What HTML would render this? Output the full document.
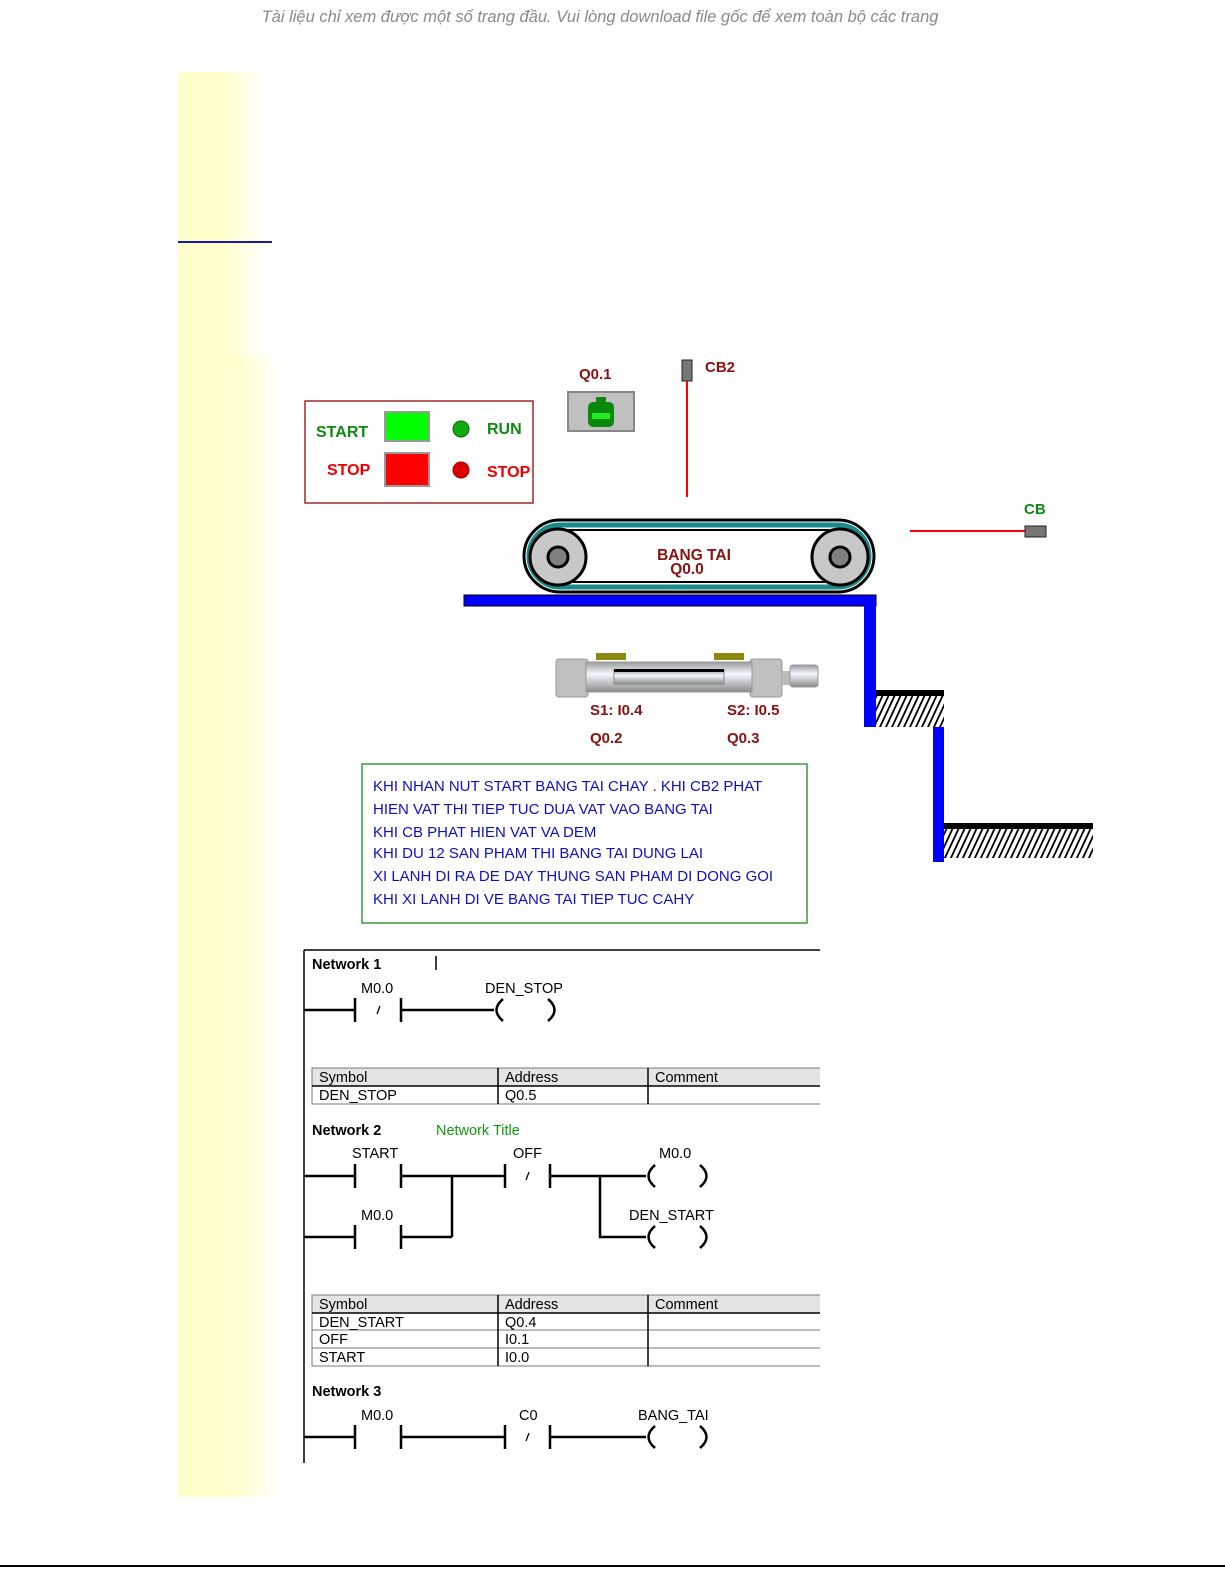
<!DOCTYPE html>
<html><head><meta charset="utf-8"><style>
html,body{margin:0;padding:0;background:#fff;}
svg{display:block;}
text{font-family:"Liberation Sans",sans-serif;}
</style></head><body>
<svg width="1225" height="1585" viewBox="0 0 1225 1585" xmlns="http://www.w3.org/2000/svg">
<defs>
<pattern id="hatch" width="6" height="8" patternUnits="userSpaceOnUse" patternTransform="skewX(-25)">
<rect width="6" height="8" fill="#fff"/><rect x="0" width="2" height="8" fill="#000"/>
</pattern>
<linearGradient id="yel" x1="0" x2="1" y1="0" y2="0">
<stop offset="0" stop-color="#ffffcc"/><stop offset="0.5" stop-color="#ffffcc"/><stop offset="1" stop-color="#ffffff"/>
</linearGradient>
<linearGradient id="cyl" x1="0" x2="0" y1="0" y2="1">
<stop offset="0" stop-color="#9a9a9a"/><stop offset="0.4" stop-color="#f4f8ff"/><stop offset="1" stop-color="#8a8a8a"/>
</linearGradient>
</defs>

<text x="600" y="22" text-anchor="middle" font-size="16.5" font-style="italic" fill="#8a8a8a">Tài liệu chỉ xem được một số trang đầu. Vui lòng download file gốc để xem toàn bộ các trang</text>

<rect x="178" y="72" width="90" height="1425" fill="url(#yel)"/>
<rect x="210" y="355" width="75" height="1142" fill="url(#yel)" opacity="0.6"/>
<rect x="178" y="241" width="94" height="2" fill="#1a1aa0"/>

<rect x="305" y="401" width="228" height="102" fill="#fff" stroke="#a02828" stroke-width="1.5"/>
<text x="316" y="437" font-size="16" font-weight="bold" fill="#118811">START</text>
<rect x="385" y="412" width="44" height="29" fill="#00ff00" stroke="#999" stroke-width="2"/>
<circle cx="461" cy="429" r="8" fill="#11aa11" stroke="#0a6a0a"/>
<text x="487" y="434" font-size="16" font-weight="bold" fill="#118811">RUN</text>
<text x="327" y="475" font-size="16" font-weight="bold" fill="#ee0000">STOP</text>
<rect x="385" y="453" width="44" height="33" fill="#ff0000" stroke="#999" stroke-width="2"/>
<circle cx="461" cy="470" r="8" fill="#dd0000" stroke="#990000"/>
<text x="487" y="477" font-size="16" font-weight="bold" fill="#ee0000">STOP</text>

<text x="579" y="379" font-size="15" font-weight="bold" fill="#8b1010">Q0.1</text>
<rect x="568" y="392" width="66" height="39" fill="#c0c0c0" stroke="#888" stroke-width="2"/>
<rect x="596" y="397" width="10" height="6" fill="#0a8a0a"/>
<rect x="588" y="402" width="26" height="25" rx="5" fill="#0a8a0a"/>
<rect x="592" y="413" width="18" height="6" fill="#22ee22"/>

<rect x="682" y="360" width="10" height="21" fill="#777" stroke="#222"/>
<line x1="687" y1="381" x2="687" y2="497" stroke="#ff0000" stroke-width="2"/>
<text x="705" y="372" font-size="15" font-weight="bold" fill="#8b1010">CB2</text>

<rect x="524" y="520" width="350" height="72" rx="36" fill="#fff" stroke="#000" stroke-width="3"/>
<rect x="529" y="525" width="340" height="62" rx="31" fill="none" stroke="#1a8a8a" stroke-width="5"/>
<rect x="534" y="530" width="330" height="52" rx="26" fill="#fff" stroke="#000" stroke-width="2"/>
<circle cx="558" cy="557" r="28" fill="#c8c8c8" stroke="#000" stroke-width="3"/>
<circle cx="558" cy="557" r="10" fill="#808080" stroke="#000" stroke-width="3"/>
<circle cx="840" cy="557" r="28" fill="#c8c8c8" stroke="#000" stroke-width="3"/>
<circle cx="840" cy="557" r="10" fill="#808080" stroke="#000" stroke-width="3"/>
<text x="694" y="560" text-anchor="middle" font-size="15.5" font-weight="bold" fill="#8b1010">BANG TAI</text>
<text x="687" y="574" text-anchor="middle" font-size="15.5" font-weight="bold" fill="#8b1010">Q0.0</text>

<rect x="464" y="595" width="412" height="11" fill="#0000ff" stroke="#000" stroke-width="1"/>
<rect x="864" y="605" width="12" height="122" fill="#0000ff"/>
<rect x="876" y="690" width="68" height="6" fill="#000"/>
<rect x="876" y="696" width="68" height="31" fill="url(#hatch)"/>
<rect x="933" y="727" width="11" height="135" fill="#0000ff"/>
<rect x="944" y="823" width="149" height="6" fill="#000"/>
<rect x="944" y="829" width="149" height="29" fill="url(#hatch)"/>

<text x="1024" y="514" font-size="15" font-weight="bold" fill="#118811">CB</text>
<line x1="910" y1="531" x2="1025" y2="531" stroke="#ff0000" stroke-width="2"/>
<rect x="1025" y="526" width="21" height="11" fill="#777" stroke="#222"/>

<rect x="596" y="653" width="30" height="7" fill="#8a8a10"/>
<rect x="714" y="653" width="30" height="7" fill="#8a8a10"/>
<rect x="556" y="659" width="32" height="38" rx="3" fill="#c0c0c0" stroke="#999"/>
<rect x="750" y="659" width="32" height="38" rx="3" fill="#c0c0c0" stroke="#999"/>
<rect x="586" y="662" width="166" height="30" fill="url(#cyl)" stroke="#999"/>
<rect x="614" y="670" width="110" height="14" fill="url(#cyl)" stroke="#888"/>
<rect x="614" y="669" width="110" height="3" fill="#000"/>
<rect x="782" y="671" width="8" height="14" fill="#bbb"/>
<rect x="790" y="665" width="28" height="22" rx="3" fill="url(#cyl)" stroke="#999"/>
<text x="590" y="715" font-size="15" font-weight="bold" fill="#8b1010">S1: I0.4</text>
<text x="727" y="715" font-size="15" font-weight="bold" fill="#8b1010">S2: I0.5</text>
<text x="590" y="743" font-size="15" font-weight="bold" fill="#8b1010">Q0.2</text>
<text x="727" y="743" font-size="15" font-weight="bold" fill="#8b1010">Q0.3</text>

<rect x="362" y="764" width="445" height="159" fill="#fff" stroke="#3a9a3a" stroke-width="1.5"/>
<g font-size="15" fill="#1010c0">
<text x="373" y="791">KHI NHAN NUT START BANG TAI CHAY . KHI CB2 PHAT</text>
<text x="373" y="814">HIEN VAT THI TIEP TUC DUA VAT VAO BANG TAI</text>
<text x="373" y="837">KHI CB PHAT HIEN VAT VA DEM</text>
<text x="373" y="858">KHI DU 12 SAN PHAM THI BANG TAI DUNG LAI</text>
<text x="373" y="881">XI LANH DI RA DE DAY THUNG SAN PHAM DI DONG GOI</text>
<text x="373" y="904">KHI XI LANH DI VE BANG TAI TIEP TUC CAHY</text>
</g>

<line x1="304" y1="950" x2="820" y2="950" stroke="#000" stroke-width="1.5"/>
<line x1="304" y1="950" x2="304" y2="1463" stroke="#000" stroke-width="1.5"/>

<g font-size="14.5" fill="#000">
<text x="312" y="969" font-weight="bold">Network 1</text>
<line x1="436" y1="956" x2="436" y2="970" stroke="#000" stroke-width="1.5"/>
<text x="361" y="993">M0.0</text>
<text x="485" y="993">DEN_STOP</text>

<text x="312" y="1135" font-weight="bold">Network 2</text>
<text x="436" y="1135" fill="#119911">Network Title</text>
<text x="352" y="1158">START</text>
<text x="513" y="1158">OFF</text>
<text x="659" y="1158">M0.0</text>
<text x="361" y="1220">M0.0</text>
<text x="629" y="1220">DEN_START</text>

<text x="312" y="1396" font-weight="bold">Network 3</text>
<text x="361" y="1420">M0.0</text>
<text x="519" y="1420">C0</text>
<text x="638" y="1420">BANG_TAI</text>
</g>

<g stroke="#000" stroke-width="2.5" fill="none">
<path d="M304 1010H355M355 998V1022M401 998V1022M401 1010H494"/>
<path d="M503 999Q490 1010 503 1021M548 999Q561 1010 548 1021"/>
<path d="M304 1176H355M355 1164V1188M401 1164V1188M401 1176H505M505 1164V1188M550 1164V1188M550 1176H646"/>
<path d="M655 1165Q642 1176 655 1187M700 1165Q713 1176 700 1187"/>
<path d="M452 1176V1237M304 1237H355M355 1225V1249M401 1225V1249M401 1237H452"/>
<path d="M600 1176V1237H646"/>
<path d="M655 1226Q642 1237 655 1248M700 1226Q713 1237 700 1248"/>
<path d="M304 1437H355M355 1425V1449M401 1425V1449M401 1437H505M505 1425V1449M550 1425V1449M550 1437H646"/>
<path d="M655 1426Q642 1437 655 1448M700 1426Q713 1437 700 1448"/>
</g>
<g stroke="#000" stroke-width="1.3">
<line x1="377" y1="1014" x2="380" y2="1006"/>
<line x1="526" y1="1180" x2="529" y2="1172"/>
<line x1="526" y1="1441" x2="529" y2="1433"/>
</g>

<rect x="312" y="1068" width="508" height="18" fill="#e4e4e4"/>
<g stroke="#777" stroke-width="1" fill="none">
<path d="M820 1068H312V1104H820"/>
<line x1="312" y1="1086" x2="820" y2="1086" stroke="#000" stroke-width="1.5"/>
<line x1="498" y1="1068" x2="498" y2="1104" stroke="#000" stroke-width="1.5"/>
<line x1="648" y1="1068" x2="648" y2="1104" stroke="#000" stroke-width="1.5"/>
</g>
<g font-size="14.5" fill="#000">
<text x="319" y="1082">Symbol</text><text x="505" y="1082">Address</text><text x="655" y="1082">Comment</text>
<text x="319" y="1100">DEN_STOP</text><text x="505" y="1100">Q0.5</text>
</g>

<rect x="312" y="1295" width="508" height="18" fill="#e4e4e4"/>
<g stroke="#777" stroke-width="1" fill="none">
<path d="M820 1295H312V1366H820"/>
<line x1="312" y1="1313" x2="820" y2="1313" stroke="#000" stroke-width="1.5"/>
<line x1="312" y1="1330" x2="820" y2="1330"/>
<line x1="312" y1="1348" x2="820" y2="1348"/>
<line x1="498" y1="1295" x2="498" y2="1366" stroke="#000" stroke-width="1.5"/>
<line x1="648" y1="1295" x2="648" y2="1366" stroke="#000" stroke-width="1.5"/>
</g>
<g font-size="14.5" fill="#000">
<text x="319" y="1309">Symbol</text><text x="505" y="1309">Address</text><text x="655" y="1309">Comment</text>
<text x="319" y="1327">DEN_START</text><text x="505" y="1327">Q0.4</text>
<text x="319" y="1344">OFF</text><text x="505" y="1344">I0.1</text>
<text x="319" y="1362">START</text><text x="505" y="1362">I0.0</text>
</g>

<rect x="0" y="1565" width="1225" height="2" fill="#000"/>
</svg>
</body></html>
